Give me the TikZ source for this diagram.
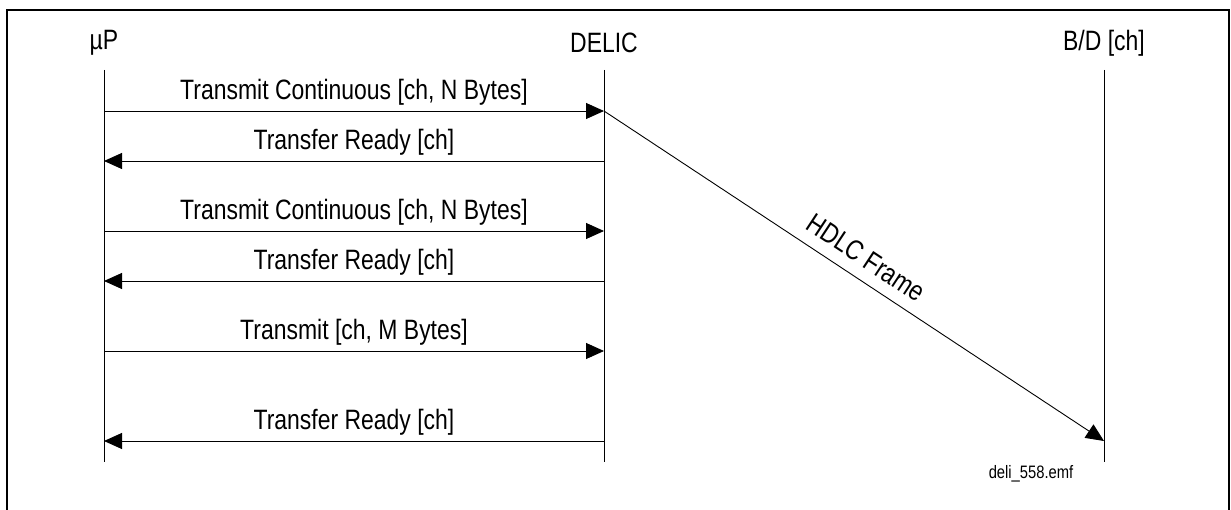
\documentclass[tikz,border=0pt]{standalone}
\usepackage{fontspec}
\setmainfont{Liberation Sans}[FakeStretch=0.82]
\usetikzlibrary{arrows.meta}

\begin{document}
\begin{tikzpicture}[x=1pt,y=-1pt,
  head/.style={inner sep=0,font=\fontsize{28}{30}\selectfont},
  msg/.style={line width=0.9pt,-{Triangle[length=18pt,width=16pt]}},
  lbl/.style={inner sep=0,text depth=6pt,font=\fontsize{28}{30}\selectfont}]
\useasboundingbox (0,0) rectangle (1231,510);
\draw[line width=2pt] (7,520) -- (7,10) -- (1229,10) -- (1229,520);
% lifelines
\node[head] (up) at (104,43) {µP};
\node[head] (delic) at (604,43) {DELIC};
\node[head] (bd) at (1104,43) {B/D [ch]};
\foreach \n/\x in {up/104,delic/604,bd/1104} {
  \coordinate (\n top) at (\x,70);
  \coordinate (\n bot) at (\x,462);
  \draw[line width=0.9pt] (\n top)--(\n bot);
}
% messages
\foreach \i/\y/\d/\t in {1/111/r/Transmit Continuous [ch{,} N Bytes],
    2/161/l/Transfer Ready [ch],
    3/231/r/Transmit Continuous [ch{,} N Bytes],
    4/281/l/Transfer Ready [ch],
    5/351/r/Transmit [ch{,} M Bytes],
    6/441/l/Transfer Ready [ch]} {
  \coordinate (u\i) at (104,\y);
  \coordinate (d\i) at (604,\y);
  \if r\d
    \draw[msg] (u\i) -- node[lbl,midway,above=5pt] {\t} (d\i);
  \else
    \draw[msg] (d\i) -- node[lbl,midway,above=5pt] {\t} (u\i);
  \fi
}
\coordinate (b6) at (1104,441);
\draw[msg] (d1) -- node[lbl,pos=0.5,sloped,above=6pt] {HDLC Frame} (b6);
\node[inner sep=0,font=\fontsize{18}{20}\selectfont] (file) at (1031,474) {deli\_558.emf};
\end{tikzpicture}
\end{document}
